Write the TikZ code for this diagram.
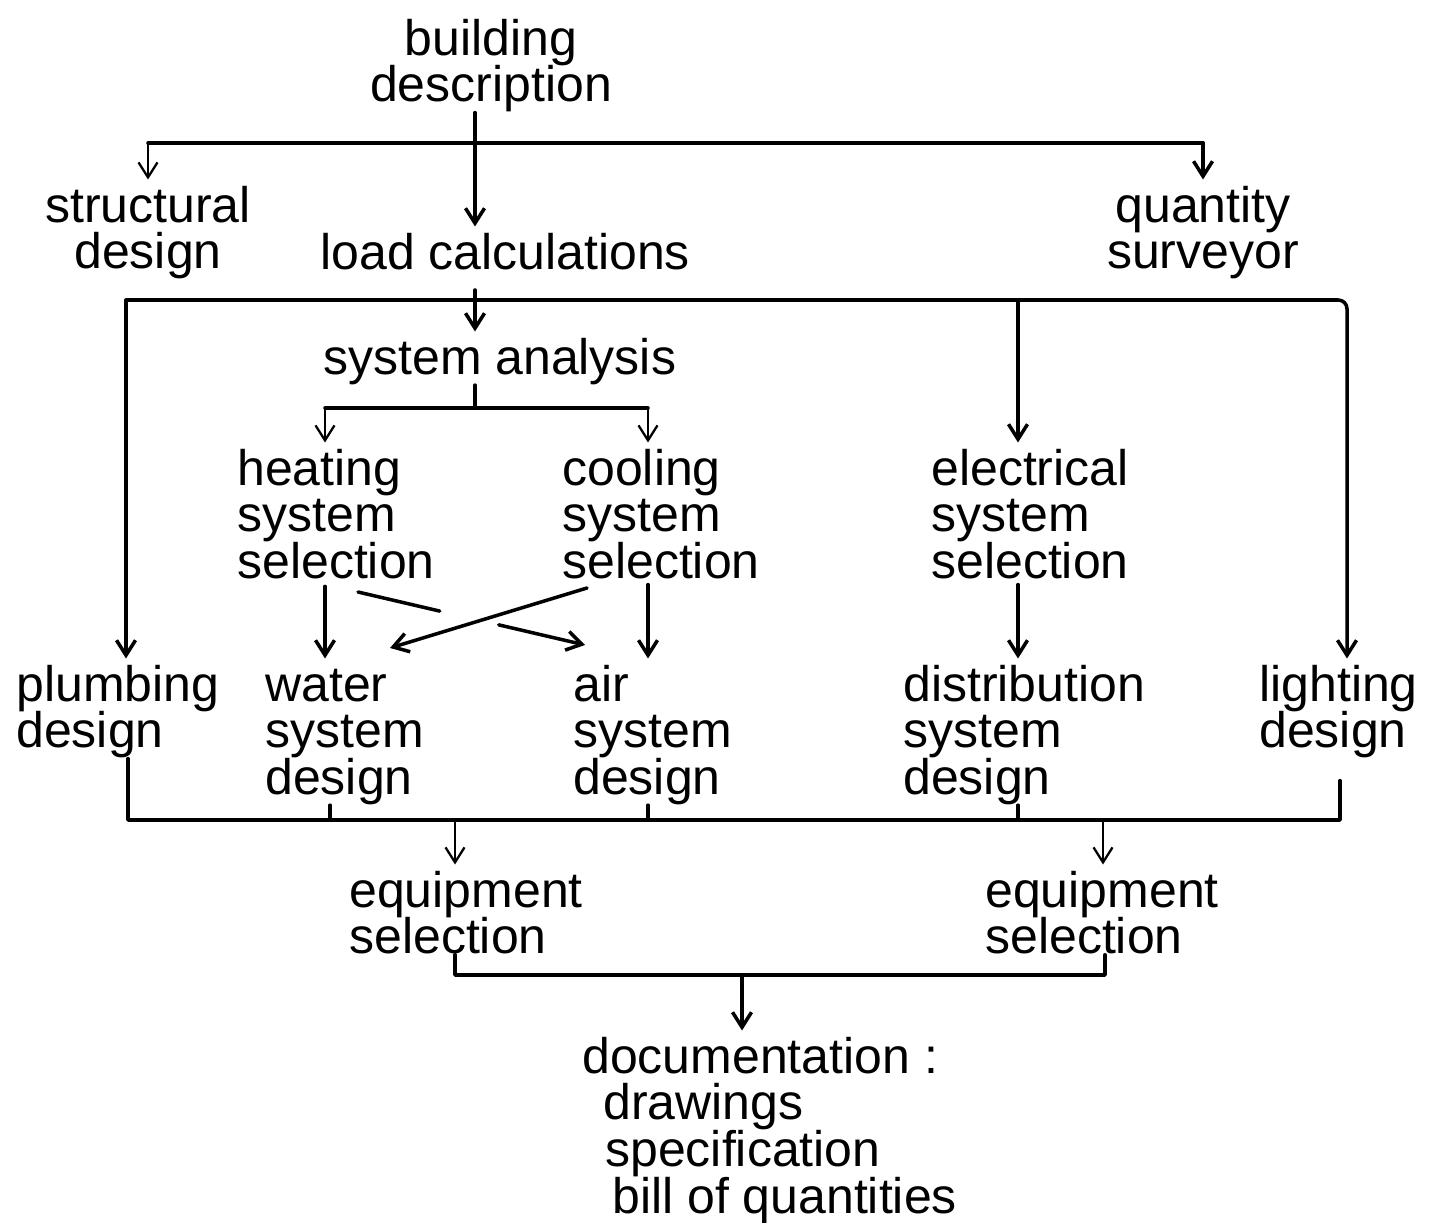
\documentclass[tikz,border=0pt]{standalone}
\usepackage{fontspec}
\setmainfont{Liberation Sans}
\usetikzlibrary{arrows.meta,calc}
% label font: large sans, tight line spacing
\newcommand\lblfont{\fontsize{28.45pt}{26.5pt}\selectfont\lineskiplimit=-20pt\relax}
% fixed first-line height so that node tops sit a set distance above the baseline
\newcommand\fl{\rule{0pt}{0.85cm}}
\begin{document}
\begin{tikzpicture}[x=0.02cm,y=-0.02cm,
  lbl/.style={inner sep=0pt, font=\lblfont, align=left, anchor=north west},
  clbl/.style={lbl, anchor=north, align=center},
  wire/.style={line width=2pt, line cap=round, line join=round},
  arr/.style={wire, -{Straight Barb[length=0.3cm,width=0.38cm]}},
  tarr/.style={arr, line width=1.3pt}]
\useasboundingbox[fill=white] (0,0) rectangle (1443,1223);

% ---- labels ----
\node[clbl] (bd) at (491,12.5) {\fl building\\description};
\node[clbl] (sd) at (148,179.5) {\fl structural\\design};
\node[lbl]  (lc) at (320,226.5) {\fl load calculations};
\node[clbl] (qs) at (1203,179.5) {\fl quantity\\surveyor};
\node[lbl]  (sa) at (323,331.5) {\fl system analysis};
\node[lbl]  (hs) at (237,442.5) {\fl heating\\system\\selection};
\node[lbl]  (cs) at (562,442.5) {\fl cooling\\system\\selection};
\node[lbl]  (es) at (931,442.5) {\fl electrical\\system\\selection};
\node[lbl]  (pd) at (16,658.5)  {\fl plumbing\\design};
\node[lbl]  (ws) at (265,658.5) {\fl water\\system\\design};
\node[lbl]  (as) at (573,658.5) {\fl air\\system\\design};
\node[lbl]  (ds) at (903,658.5) {\fl distribution\\system\\design};
\node[lbl]  (ld) at (1259,658.5) {\fl lighting\\design};
\node[lbl]  (eq1) at (349,864.5) {\fl equipment\\selection};
\node[lbl]  (eq2) at (985,864.5) {\fl equipment\\selection};
\node[lbl]  (doc) at (582,1030.5) {\fl documentation :\\\hspace{0.42cm}drawings\\\hspace{0.46cm}specification\\\hspace{0.6cm}bill of quantities};

% ---- building description fan-out ----
\coordinate (j1) at (475,143);
\draw[arr] (j1 |- bd.south) -- (j1 |- lc.north);
\draw[wire] (sd.north |- j1) -- (qs.north |- j1);
\draw[tarr] (sd.north |- j1) -- (sd.north);
\draw[arr] (qs.north |- j1) -- (qs.north);

% ---- load calculations fan-out ----
\coordinate (j2) at (475,300);
\coordinate (b2L) at (126,300);
\coordinate (b2R) at (1347,300);
\coordinate (b2E) at (1018,300);
\draw[arr] ($(j2)+(0,-10)$) -- (j2 |- sa.north);
\draw[arr, rounded corners=5pt] (b2L) -- (b2R) -- (b2R |- ld.north);
\draw[arr] (b2L) -- (b2L |- pd.north);
\draw[arr] (b2E) -- (b2E |- es.north);

% ---- system analysis split ----
\coordinate (j3) at (475,408);
\coordinate (b3L) at (325,408);
\coordinate (b3R) at (648,408);
\draw[wire] (j3 |- sa.south) -- (j3);
\draw[wire] (b3L) -- (b3R);
\draw[tarr] (b3L) -- (b3L |- hs.north);
\draw[tarr] (b3R) -- (b3R |- cs.north);

% ---- selection to design ----
\draw[arr, shorten <=4pt] (hs.south -| b3L) -- (ws.north -| b3L);
\draw[arr, shorten <=3pt] (cs.south -| b3R) -- (as.north -| b3R);
\draw[arr, shorten <=3pt] (es.south -| b2E) -- (ds.north -| b2E);

% crossing links (heating to air passes under cooling to water)
\coordinate (hx0) at (358,592);
\coordinate (hx1) at (585,645);
\coordinate (cx0) at (587,588);
\coordinate (cx1) at (390,648);
\draw[wire] (hx0) -- ($(hx0)!0.36!(hx1)$);
\draw[arr] ($(hx0)!0.62!(hx1)$) -- (hx1);
\draw[arr] (cx0) -- (cx1);

% ---- design collector ----
\coordinate (b4L) at (128,820);
\coordinate (b4R) at (1340,820);
\coordinate (b4w) at (330,820);
\coordinate (b4a) at (648,820);
\coordinate (b4d) at (1018,820);
\coordinate (b4e1) at (455,820);
\coordinate (b4e2) at (1103,820);
\draw[wire] (pd.south -| b4L) -- (b4L) -- (b4R) -- ($(ld.south -| b4R)+(0,22)$);
\draw[wire] (b4w) -- (b4w |- ws.south);
\draw[wire] (b4a) -- (b4a |- as.south);
\draw[wire] (b4d) -- (b4d |- ds.south);
\draw[tarr] (b4e1) -- (b4e1 |- eq1.north);
\draw[tarr] (b4e2) -- (b4e2 |- eq2.north);

% ---- equipment collector ----
\coordinate (b5L) at (455,975);
\coordinate (b5R) at (1105,975);
\coordinate (j5) at (742,975);
\draw[wire] (b5L |- eq1.south) -- (b5L) -- (b5R) -- (b5R |- eq2.south);
\draw[arr] (j5) -- (j5 |- doc.north);
\end{tikzpicture}
\end{document}
